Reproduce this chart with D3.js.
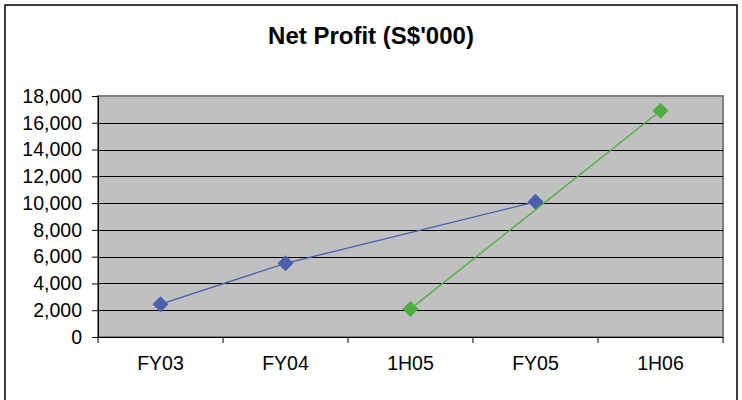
<!DOCTYPE html>
<html>
<head>
<meta charset="utf-8">
<script src="https://cdn.jsdelivr.net/npm/d3@7"></script>
<style>
  body { margin: 0; background: #fff; }
  svg { display: block; font-family: "Liberation Sans", Arial, sans-serif; }
</style>
</head>
<body>
<svg id="chart" width="742" height="400"></svg>
<script>
const categories = ["FY03", "FY04", "1H05", "FY05", "1H06"];
const fullYear = [2450, 5500, null, 10100, null];
const halfYear = [null, null, 2100, null, 16900];
const yTicks = [0, 2000, 4000, 6000, 8000, 10000, 12000, 14000, 16000, 18000];
const title = "Net Profit (S$'000)";

const svg = d3.select("#chart");
const margin = { top: 96, right: 19, bottom: 63, left: 98 };
const width = 742, height = 400;
const w = width - margin.left - margin.right;
const h = height - margin.top - margin.bottom;

// chart frame
svg.append("rect")
    .attr("x", 5).attr("y", 5)
    .attr("width", 732).attr("height", 400)
    .attr("fill", "#fff")
    .attr("stroke", "#000")
    .attr("stroke-width", 1.5);

svg.append("text")
    .attr("x", 371)
    .attr("y", 44)
    .attr("text-anchor", "middle")
    .attr("font-size", 24)
    .attr("font-weight", "bold")
    .text(title);

const x = d3.scaleBand().domain(categories).range([0, w]).padding(0);
const y = d3.scaleLinear().domain([0, 18000]).range([h, 0]);

const chart = svg.append("g")
    .attr("transform", `translate(${margin.left},${margin.top})`);

// plot area
chart.append("rect")
    .attr("width", w).attr("height", h)
    .attr("fill", "#c0c0c0")
    .attr("stroke", "#808080")
    .attr("stroke-width", 2);

chart.selectAll(".grid")
    .data(yTicks.filter(d => d > 0 && d < 18000))
    .enter().append("line")
    .attr("class", "grid")
    .attr("x1", 0).attr("x2", w)
    .attr("y1", d => Math.round(y(d)) + 0.5)
    .attr("y2", d => Math.round(y(d)) + 0.5)
    .attr("stroke", "#000")
    .attr("stroke-width", 1);

// y axis
const yAxis = chart.append("g")
    .call(d3.axisLeft(y).tickValues(yTicks).tickFormat(d3.format(",")).tickSize(6).tickPadding(10));
yAxis.selectAll("text").attr("font-size", 19.5).attr("fill", "#000").attr("font-family", "Liberation Sans, Arial, sans-serif");
yAxis.select(".domain").attr("stroke", "#000");

// x axis
const xAxis = chart.append("g")
    .attr("transform", `translate(0,${h})`)
    .call(d3.axisBottom(x).tickSize(0).tickPadding(19));
xAxis.selectAll("text").attr("font-size", 19.5).attr("fill", "#000").attr("font-family", "Liberation Sans, Arial, sans-serif");
xAxis.select(".domain").attr("stroke", "#000");

const bounds = categories.map(c => x(c)).concat([w]);
chart.selectAll(".xtick")
    .data(bounds)
    .enter().append("line")
    .attr("class", "xtick")
    .attr("x1", d => d).attr("x2", d => d)
    .attr("y1", h).attr("y2", h + 6)
    .attr("stroke", "#000");

const cx = c => x(c) + x.bandwidth() / 2;

function drawSeries(values, color) {
    const pts = categories.map((c, i) => ({ c, v: values[i] })).filter(d => d.v != null);
    chart.append("path")
        .datum(pts)
        .attr("fill", "none")
        .attr("stroke", color)
        .attr("stroke-width", 1.3)
        .attr("d", d3.line().x(d => cx(d.c)).y(d => y(d.v)));
    chart.selectAll(null)
        .data(pts)
        .enter().append("path")
        .attr("transform", d => `translate(${cx(d.c)},${y(d.v)})`)
        .attr("d", "M0,-8L8,0L0,8L-8,0Z")
        .attr("fill", color);
}

drawSeries(fullYear, "#4a5fb0");
drawSeries(halfYear, "#4caf3f");
</script>
</body>
</html>
